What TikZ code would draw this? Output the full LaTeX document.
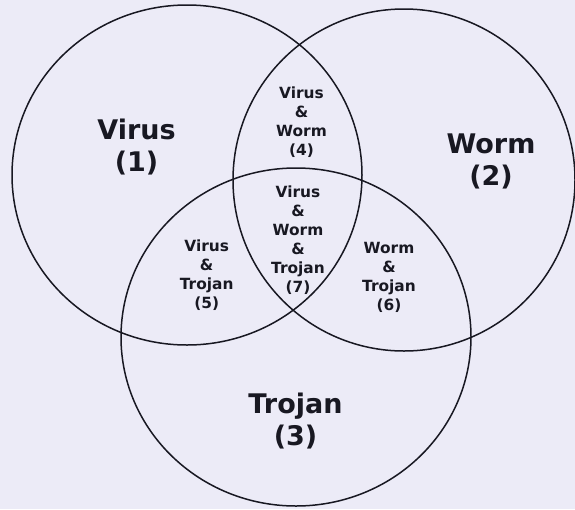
\documentclass[tikz,border=0pt]{standalone}
\usepackage{fontspec}
\setmainfont{DejaVu Sans}
\usetikzlibrary{positioning}
\definecolor{paper}{RGB}{236,235,247}
\definecolor{ink}{RGB}{24,24,34}

\begin{document}
\begin{tikzpicture}[x=1pt,y=-1pt,
set/.style={draw=ink,line width=1.5pt},
big/.style={font=\bfseries\fontsize{27}{32}\selectfont,align=center,text=ink},
small/.style={font=\bfseries\fontsize{15.4}{19}\selectfont,align=center,text=ink}]
\fill[paper] (0,0) rectangle (575,509);
\useasboundingbox (0,0) rectangle (575,509);
% the three sets
\coordinate (cV) at (187,175);
\coordinate (cW) at (404,180);
\coordinate (cT) at (296,337);
\draw[set] (cV) circle[x radius=175pt,y radius=170pt];
\draw[set] (cW) circle[x radius=171pt,y radius=171pt];
\draw[set] (cT) circle[x radius=175pt,y radius=169pt];
% labels
\node[big] (V) at (136.5,147) {Virus\\(1)};
\node[big] (W) at (491,161) {Worm\\(2)};
\node[big] (T) at (295.5,421) {Trojan\\(3)};
\node[small] (VW) at (301.5,122) {Virus\\\&\\Worm\\(4)};
\node[small] (VT) at (206.7,275) {Virus\\\&\\Trojan\\(5)};
\node[small] (WT) at (389,277) {Worm\\\&\\Trojan\\(6)};
\node[small] (VWT) at (298,240) {Virus\\\&\\Worm\\\&\\Trojan\\(7)};
\end{tikzpicture}
\end{document}
